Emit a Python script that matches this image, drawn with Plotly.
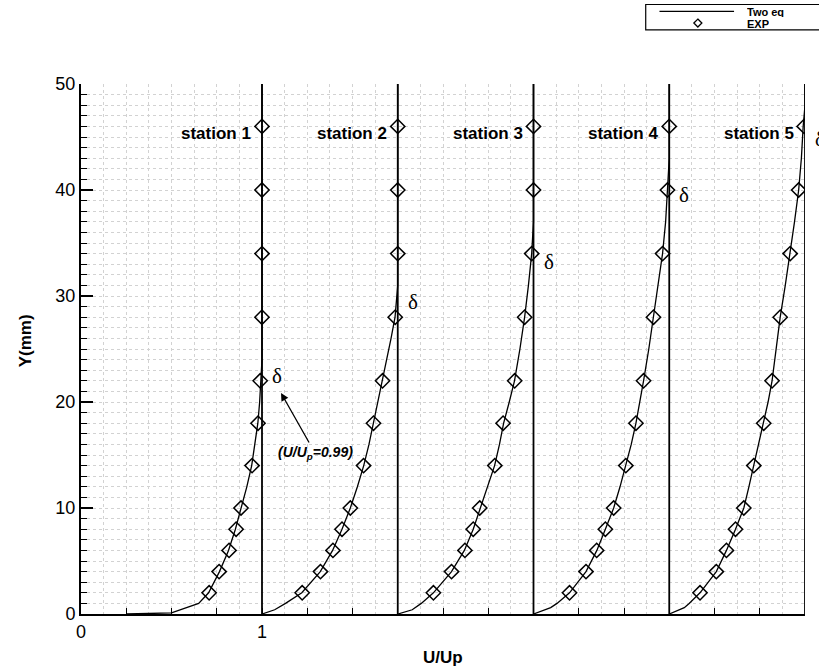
import numpy as np
import plotly.graph_objects as go

# ---------------- data ----------------
stations = ["station 1", "station 2", "station 3", "station 4", "station 5"]
offsets = [0.0, 0.75, 1.5, 2.25, 3.0]          # horizontal shift of each profile
station_line_y = [0, 50]

exp_y = [2, 4, 6, 8, 10, 14, 18, 22, 28, 34, 40, 46]
exp_u = [
    [0.708, 0.763, 0.818, 0.857, 0.884, 0.945, 0.978, 0.99, 1.0, 1.0, 1.0, 1.0],
    [0.472, 0.573, 0.642, 0.692, 0.738, 0.811, 0.866, 0.916, 0.986, 1.0, 1.0, 1.0],
    [0.447, 0.547, 0.621, 0.667, 0.703, 0.786, 0.832, 0.896, 0.951, 0.99, 1.0, 1.0],
    [0.449, 0.540, 0.599, 0.647, 0.693, 0.760, 0.816, 0.858, 0.913, 0.963, 0.99, 1.0],
    [0.420, 0.510, 0.566, 0.616, 0.662, 0.717, 0.772, 0.818, 0.863, 0.918, 0.965, 0.995],
]

cfd_y = [
    [0, 0.1, 1, 2, 4, 6, 8, 10, 12, 14, 16, 18, 20, 22, 24, 50],
    [0, 0.4, 1, 2, 4, 6, 8, 10, 12, 14, 16, 18, 20, 22, 24, 26, 28, 31, 50],
    [0, 0.4, 1, 2, 4, 6, 8, 10, 12, 14, 16, 18, 20, 22, 25, 28, 31, 34, 37, 50],
    [0, 0.6, 1, 2, 4, 6, 8, 10, 12, 14, 16, 18, 20, 22, 25, 28, 31, 34, 37, 40, 43, 50],
    [0, 0.6, 1, 2, 4, 6, 8, 10, 12, 14, 16, 18, 20, 22, 25, 28, 31, 34, 37, 40, 43, 46, 48, 50],
]
cfd_u = [
    [0.25, 0.50, 0.65, 0.705, 0.765, 0.815, 0.853, 0.885, 0.916, 0.943, 0.962, 0.977, 0.987, 0.993, 1.0, 1.0],
    [0.25, 0.32, 0.38, 0.47, 0.572, 0.64, 0.692, 0.738, 0.777, 0.812, 0.841, 0.866, 0.892, 0.915, 0.940, 0.963, 0.985, 1.0, 1.0],
    [0.25, 0.33, 0.38, 0.447, 0.547, 0.618, 0.667, 0.705, 0.747, 0.785, 0.812, 0.835, 0.866, 0.895, 0.925, 0.951, 0.972, 0.99, 1.0, 1.0],
    [0.25, 0.345, 0.38, 0.449, 0.54, 0.60, 0.647, 0.693, 0.728, 0.76, 0.79, 0.816, 0.838, 0.858, 0.887, 0.913, 0.940, 0.963, 0.980, 0.99, 1.0, 1.0],
    [0.25, 0.333, 0.36, 0.42, 0.51, 0.566, 0.616, 0.662, 0.690, 0.717, 0.745, 0.772, 0.796, 0.818, 0.840, 0.863, 0.891, 0.918, 0.942, 0.965, 0.980, 0.99, 1.0, 1.0],
]

delta_y = [22, 28, 34, 40, 46]
delta_yshift = [5, 15, -8, -5, -13]

x_tick_vals = [0, 1]
x_tick_text = ["0", "1"]
y_tick_vals = [0, 10, 20, 30, 40, 50]
y_tick_text = ["0", "10", "20", "30", "40", "50"]

# ---------------- figure ----------------
fig = go.Figure()

# station reference lines
for off in offsets:
    fig.add_trace(go.Scatter(
        x=[off + 1.0] * len(station_line_y), y=station_line_y, mode="lines",
        line=dict(color="black", width=1.8), showlegend=False, hoverinfo="skip"))

# Two-equation model curves
for off, u, y in zip(offsets, cfd_u, cfd_y):
    fig.add_trace(go.Scatter(
        x=[v + off for v in u], y=y, mode="lines",
        line=dict(color="black", width=1.3), showlegend=False, name="Two eq"))

# experiments
for off, u in zip(offsets, exp_u):
    fig.add_trace(go.Scatter(
        x=[v + off for v in u], y=exp_y, mode="markers",
        marker=dict(symbol="diamond-open", size=11, color="black",
                    line=dict(color="black", width=1.5)),
        showlegend=False, name="EXP"))

bold = dict(family="Liberation Sans, Arial", size=17, color="black", weight="bold")

# station labels and delta labels
for i, (name, off) in enumerate(zip(stations, offsets)):
    fig.add_annotation(x=off + 1.0, y=45.3, text=name, showarrow=False,
                       xanchor="right", yanchor="middle", xshift=-9, font=bold)
    fig.add_annotation(x=off + 1.0, y=delta_y[i], text="δ", showarrow=False,
                       xanchor="center", yanchor="middle", xshift=15,
                       yshift=delta_yshift[i],
                       font=dict(family="Liberation Serif", size=21, color="black"))

# arrow annotation
fig.add_annotation(x=1.105, y=20.85, ax=34, ay=60, text="(U/U<sub>p</sub>=0.99)",
                   showarrow=True, arrowhead=2, arrowsize=1.2, arrowwidth=1.3,
                   arrowcolor="black",
                   font=dict(family="Liberation Sans, Arial", size=14, color="black",
                             weight="bold", style="italic"))

# axis titles
fig.add_annotation(xref="paper", yref="paper", x=-0.077, y=0.515, text="Y(mm)",
                   textangle=-90, showarrow=False, xanchor="center", yanchor="middle",
                   font=dict(bold, size=17))
fig.add_annotation(xref="paper", yref="paper", x=0.5, y=-0.083, text="U/Up",
                   showarrow=False, xanchor="center", yanchor="middle",
                   font=dict(bold, size=17))

# legend (drawn manually)
fig.add_shape(type="rect", xref="paper", yref="paper", x0=0.780, x1=1.04,
              y0=1.102, y1=1.150, line=dict(color="black", width=1.2),
              fillcolor="white")
fig.add_shape(type="line", xref="paper", yref="paper", x0=0.799, x1=0.902,
              y0=1.137, y1=1.137, line=dict(color="black", width=1.2))
fig.add_shape(type="path", xref="paper", yref="paper", xsizemode="pixel",
              ysizemode="pixel", xanchor=0.852, yanchor=1.115,
              path="M 0 4 L 4 0 L 0 -4 L -4 0 Z", line=dict(color="black", width=1.3))
leg_font = dict(family="Liberation Sans, Arial", size=11, color="black", weight="bold")
fig.add_annotation(xref="paper", yref="paper", x=0.919, y=1.137, text="Two eq",
                   xanchor="left", yanchor="middle", height=11, borderpad=0,
                   showarrow=False, font=leg_font)
fig.add_annotation(xref="paper", yref="paper", x=0.919, y=1.115, text="EXP",
                   xanchor="left", yanchor="middle", height=11, borderpad=0,
                   showarrow=False, font=leg_font)

tick_font = dict(family="Liberation Sans, Arial", size=18, color="black")
grid_col = "#d2d2d2"

fig.update_layout(
    width=819, height=670,
    margin=dict(l=81, r=11, t=84, b=56),
    plot_bgcolor="white", paper_bgcolor="white",
    showlegend=False,
    xaxis=dict(
        range=[0, 4.0], tickmode="array",
        tickvals=list(np.arange(0, 4.001, 0.25)),
        ticktext=[x_tick_text[x_tick_vals.index(v)] if v in x_tick_vals else " "
                  for v in np.arange(0, 4.001, 0.25)],
        ticks="inside", ticklen=6, tickwidth=1.3, tickcolor="black",
        showline=True, linecolor="black", linewidth=2,
        showgrid=True, gridcolor=grid_col, griddash="dot", gridwidth=1,
        minor=dict(tickmode="linear", tick0=0, dtick=0.125, showgrid=True,
                   gridcolor=grid_col, griddash="dot", gridwidth=1, ticks=""),
        tickfont=tick_font, zeroline=False,
    ),
    yaxis=dict(
        range=[0, 50], tickmode="array", tickvals=y_tick_vals, ticktext=y_tick_text,
        ticks="inside", ticklen=12, tickwidth=1.5, tickcolor="black",
        showline=True, linecolor="black", linewidth=2,
        showgrid=True, gridcolor=grid_col, griddash="dot", gridwidth=1,
        minor=dict(tickmode="linear", tick0=0, dtick=1, ticks="inside", ticklen=6,
                   tickwidth=1.2, tickcolor="black", showgrid=True,
                   gridcolor=grid_col, griddash="dot", gridwidth=1),
        tickfont=tick_font, zeroline=False,
    ),
)

fig.write_html("out.html")
